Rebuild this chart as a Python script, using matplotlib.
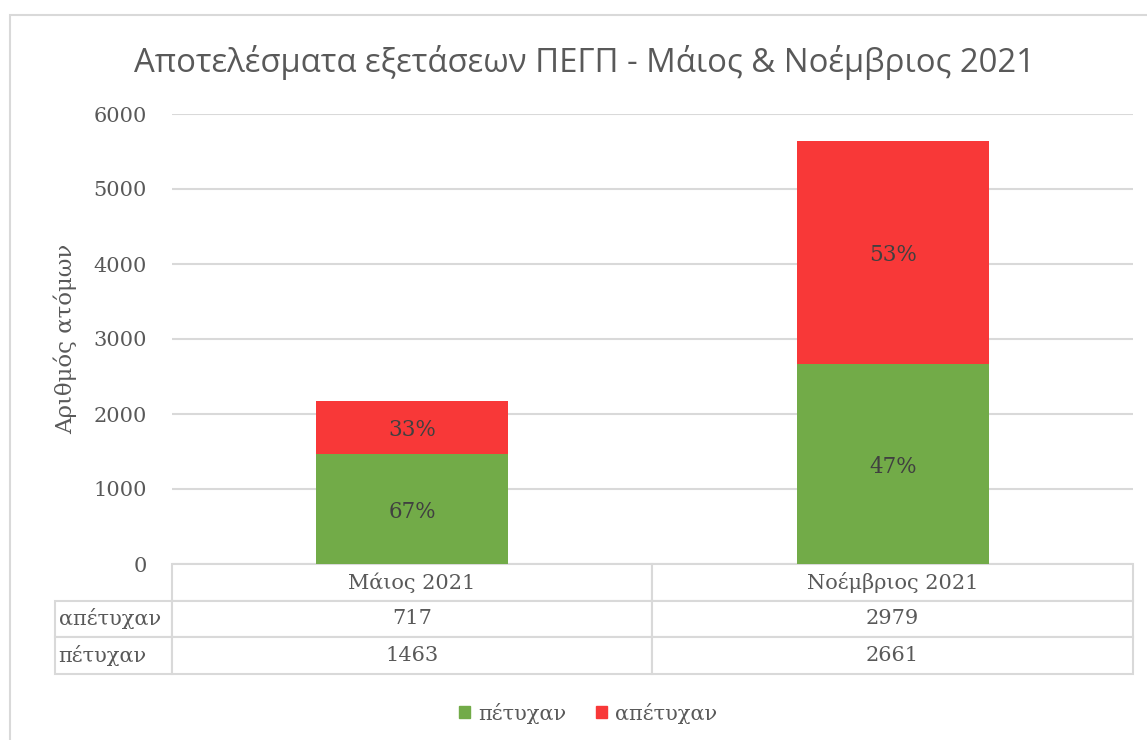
import matplotlib
matplotlib.use('Agg')
import matplotlib.pyplot as plt
from matplotlib.patches import Rectangle, Patch

# data
categories = ['Μάιος 2021', 'Νοέμβριος 2021']
failed = [717, 2979]
passed = [1463, 2661]
series_names = ['πέτυχαν', 'απέτυχαν']
title = 'Αποτελέσματα εξετάσεων ΠΕΓΠ - Μάιος & Νοέμβριος 2021'
ylabel = 'Αριθμός ατόμων'
yticks = [0, 1000, 2000, 3000, 4000, 5000, 6000]

green = '#72AB48'
red = '#F83838'
grid_col = '#D9D9D9'
txt_col = '#595959'
serif = 'DejaVu Serif'

W, H = 1147, 740
fig = plt.figure(figsize=(W / 100, H / 100), dpi=100)

# outer chart border
fig.patches.append(Rectangle((10 / W, -0.05), 1.1, 1 - 15 / H + 0.05,
                             transform=fig.transFigure, fill=False,
                             edgecolor=grid_col, linewidth=1.5))

ax = fig.add_axes([172 / W, 1 - 564 / H, 961 / W, 450 / H])
x = list(range(len(categories)))
ax.bar(x, passed, width=0.4, color=green, zorder=3)
ax.bar(x, failed, width=0.4, bottom=passed, color=red, zorder=3)

for i in x:
    tot = passed[i] + failed[i]
    ax.text(i, passed[i] / 2, '%d%%' % round(100 * passed[i] / tot),
            ha='center', va='center_baseline', fontsize=15.5, color='#404040',
            family=serif, zorder=4)
    ax.text(i, passed[i] + failed[i] / 2, '%d%%' % round(100 * failed[i] / tot),
            ha='center', va='center_baseline', fontsize=15.5, color='#404040',
            family=serif, zorder=4)

ax.set_xlim(-0.5, 1.5)
ax.set_ylim(0, 6000)
ax.set_yticks(yticks)
ax.set_xticks([])
ax.yaxis.grid(True, color=grid_col, linewidth=1.5, zorder=0)
ax.tick_params(axis='y', length=0, pad=18, labelsize=15, labelcolor=txt_col)
for lab in ax.get_yticklabels():
    lab.set_family(serif)
for s in ax.spines.values():
    s.set_visible(False)
ax.set_ylabel(ylabel, fontsize=16.5, color=txt_col, family=serif, labelpad=12)

# data table under the plot
cell_text = [['απέτυχαν'] + [str(v) for v in failed],
             ['πέτυχαν'] + [str(v) for v in passed]]
tab = ax.table(cellText=cell_text, colLabels=[''] + categories,
               colWidths=[117, 480, 481], cellLoc='center',
               bbox=[-117 / 961, -110 / 450, 1078 / 961, 110 / 450])
tab.auto_set_font_size(False)
tab.set_fontsize(15)
for (r, c), cell in tab.get_celld().items():
    cell.set_edgecolor(grid_col)
    cell.set_linewidth(1.5)
    cell.get_text().set_color(txt_col)
    cell.get_text().set_family(serif)
    if c == 0:
        cell.get_text().set_ha('left')
        cell.PAD = 0.03
    if r == 0 and c == 0:
        cell.visible_edges = ''

fig.text(585 / W, 1 - 62 / H, title, ha='center', va='center',
         fontsize=23.7, color=txt_col, family='Open Sans')

handles = [Patch(color=green), Patch(color=red)]
fig.legend(handles, series_names, loc='center', bbox_to_anchor=(588 / W, 1 - 713 / H),
           ncol=2, frameon=False, handlelength=0.55, handleheight=0.55,
           handletextpad=0.4, columnspacing=1.4,
           prop={'family': serif, 'size': 15}, labelcolor=txt_col)

fig.savefig('out.png', dpi=100)
